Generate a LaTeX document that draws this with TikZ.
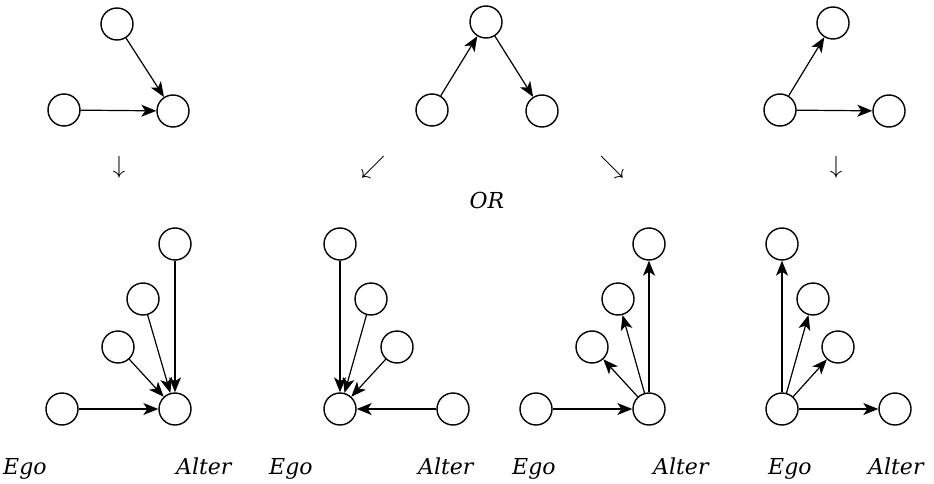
\documentclass[tikz,border=0pt]{standalone}
\usepackage{fontspec}
\setmainfont{DejaVu Serif}
\usetikzlibrary{arrows.meta}
\tikzset{
  nd/.style={circle,draw,line width=1.4pt,minimum size=32pt,inner sep=0pt},
  ed/.style={line width=1.2pt,-{Stealth[length=15pt,width=12pt,inset=4pt]}},
  lbl/.style={anchor=base west,inner sep=0pt,font=\fontsize{22}{22}\selectfont\itshape},
  sym/.style={inner sep=0pt,font=\fontsize{26}{26}\selectfont}
}
\begin{document}
\begin{tikzpicture}[x=1pt,y=-1pt]
\useasboundingbox (0,0) rectangle (934,484);
% top-left
\node[nd] (a1) at (117,24) {};
\node[nd] (a2) at (64,110) {};
\node[nd] (a3) at (173,111) {};
\draw[ed] (a1) -- (a3);
\draw[ed] (a2) -- (a3);
% top-middle
\node[nd] (b1) at (486,22) {};
\node[nd] (b2) at (432,110) {};
\node[nd] (b3) at (542,111) {};
\draw[ed] (b2) -- (b1);
\draw[ed] (b1) -- (b3);
% top-right
\node[nd] (c1) at (833,23) {};
\node[nd] (c2) at (780,110) {};
\node[nd] (c3) at (889,111) {};
\draw[ed] (c2) -- (c1);
\draw[ed] (c2) -- (c3);
% transition symbols
\node[sym] (s1) at (119,167) {$\downarrow$};
\node[sym] (s2) at (373,167) {$\swarrow$};
\node[sym] (s3) at (612,167) {$\searrow$};
\node[sym] (s4) at (836,167) {$\downarrow$};
\node[lbl,anchor=base] (or) at (487,208) {OR};
% bottom panel 1
\node[nd] (p1t) at (175,244) {};
\node[nd] (p1s) at (143,299) {};
\node[nd] (p1r) at (118,347) {};
\node[nd] (p1e) at (62,409) {};
\node[nd] (p1a) at (175,409) {};
\draw[ed] (p1t) -- (p1a);
\draw[ed] (p1s) -- (p1a);
\draw[ed] (p1r) -- (p1a);
\draw[ed] (p1e) -- (p1a);
\node[lbl] (p1ego) at (3,474) {Ego};
\node[lbl] (p1alt) at (176,474) {Alter};
% bottom panel 2
\node[nd] (p2t) at (340,244) {};
\node[nd] (p2s) at (371,299) {};
\node[nd] (p2r) at (397,347) {};
\node[nd] (p2e) at (340,409) {};
\node[nd] (p2a) at (453,409) {};
\draw[ed] (p2t) -- (p2e);
\draw[ed] (p2s) -- (p2e);
\draw[ed] (p2r) -- (p2e);
\draw[ed] (p2a) -- (p2e);
\node[lbl] (p2ego) at (269,474) {Ego};
\node[lbl] (p2alt) at (418,474) {Alter};
% bottom panel 3
\node[nd] (p3t) at (649,244) {};
\node[nd] (p3s) at (618,299) {};
\node[nd] (p3r) at (592,347) {};
\node[nd] (p3e) at (536,409) {};
\node[nd] (p3a) at (649,409) {};
\draw[ed] (p3a) -- (p3t);
\draw[ed] (p3a) -- (p3s);
\draw[ed] (p3a) -- (p3r);
\draw[ed] (p3e) -- (p3a);
\node[lbl] (p3ego) at (512,474) {Ego};
\node[lbl] (p3alt) at (653,474) {Alter};
% bottom panel 4
\node[nd] (p4t) at (782,244) {};
\node[nd] (p4s) at (813,299) {};
\node[nd] (p4r) at (838,347) {};
\node[nd] (p4e) at (782,409) {};
\node[nd] (p4a) at (895,409) {};
\draw[ed] (p4e) -- (p4t);
\draw[ed] (p4e) -- (p4s);
\draw[ed] (p4e) -- (p4r);
\draw[ed] (p4e) -- (p4a);
\node[lbl] (p4ego) at (768,474) {Ego};
\node[lbl] (p4alt) at (868,474) {Alter};
\end{tikzpicture}
\end{document}
